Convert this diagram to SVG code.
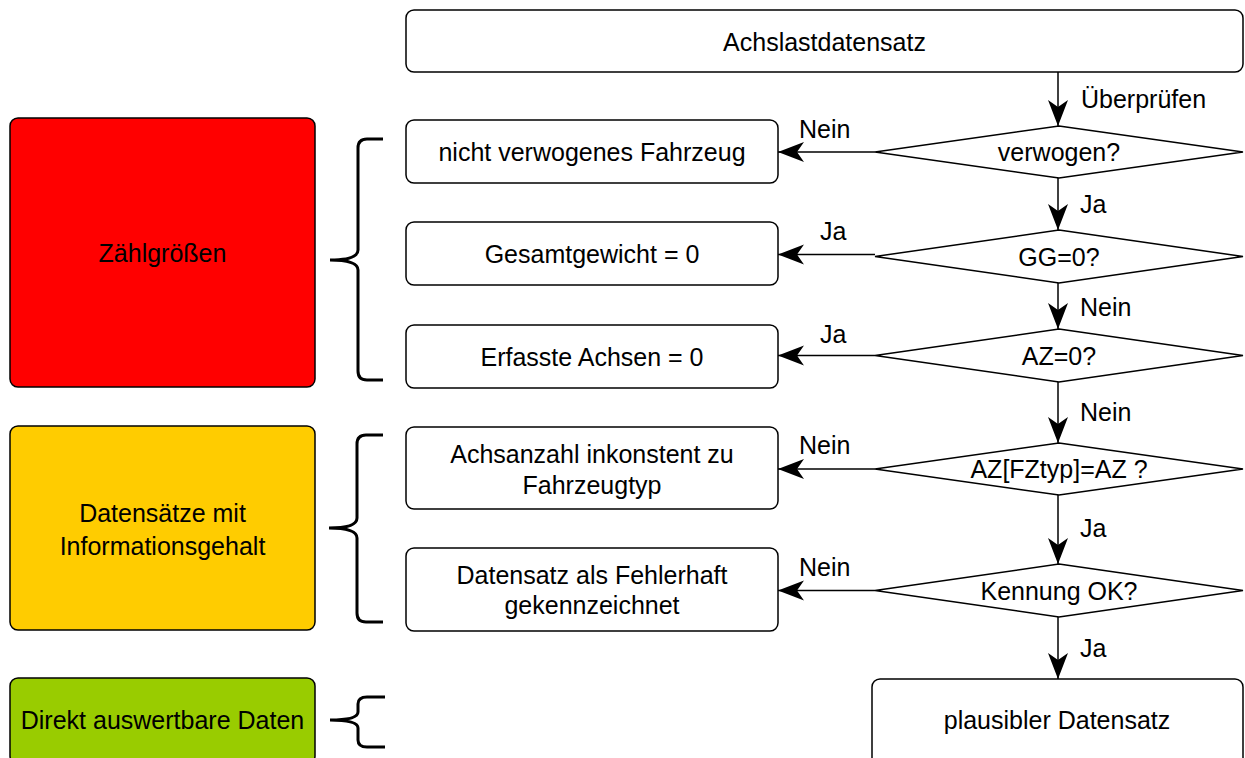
<svg xmlns="http://www.w3.org/2000/svg" width="1245" height="758" viewBox="0 0 1245 758">
<style>
text{font-family:"Liberation Sans",Arial,sans-serif;font-size:25px;fill:#000}
.c{text-anchor:middle}
.box{fill:#fff;stroke:#000;stroke-width:1.5}
.cat{stroke:#000;stroke-width:1.5}
.dia{fill:#fff;stroke:#000;stroke-width:1.5}
.con{fill:none;stroke:#000;stroke-width:1.5}
.brace{fill:none;stroke:#000;stroke-width:3}
</style>
<defs>
<marker id="arr" markerUnits="userSpaceOnUse" markerWidth="30" markerHeight="24" refX="26" refY="10" orient="auto">
<path d="M0,0 L26,10 L0,20 L7,10 Z" fill="#000"/>
</marker>
</defs>
<rect width="1245" height="758" fill="#fff"/>

<g id="cat-zaehl"><rect class="cat" x="10" y="118" width="305" height="269" rx="8" fill="#ff0000"/><text class="c" x="162.5" y="262">Zählgrößen</text></g>
<g id="cat-info"><rect class="cat" x="10" y="426" width="305" height="204" rx="8" fill="#ffcc00"/><text class="c" x="162.5" y="522">Datensätze mit</text><text class="c" x="162.5" y="555">Informationsgehalt</text></g>
<g id="cat-direkt"><rect class="cat" x="10" y="678" width="305" height="86" rx="8" fill="#99cc00"/><text class="c" x="162.5" y="729">Direkt auswertbare Daten</text></g>

<g id="braces">
<path class="brace" d="M383,139 H367 Q358,139 358,148 V250 Q358,260 330,260 Q358,260 358,270 V371 Q358,380 367,380 H383"/>
<path class="brace" d="M383,435 H366 Q357,435 357,444 V518 Q357,528 329,528 Q357,528 357,538 V613 Q357,622 366,622 H383"/>
<path class="brace" d="M385,697 H367 Q358,697 358,704 V712 Q358,720 330,720 Q358,720 358,728 V740 Q358,747 367,747 H385"/>
</g>

<g id="start"><rect class="box" x="406" y="10" width="837" height="62" rx="8"/><text class="c" x="824.5" y="51">Achslastdatensatz</text></g>

<g id="d1"><polygon class="dia" points="1059,126 1243,152 1059,178 875,152"/><text class="c" x="1059" y="161">verwogen?</text></g>
<g id="d2"><polygon class="dia" points="1059,230 1243,256.5 1059,283 875,256.5"/><text class="c" x="1059" y="265.5">GG=0?</text></g>
<g id="d3"><polygon class="dia" points="1059,329 1243,355.5 1059,382 875,355.5"/><text class="c" x="1059" y="364.5">AZ=0?</text></g>
<g id="d4"><polygon class="dia" points="1059,443 1243,469 1059,495 875,469"/><text class="c" x="1059" y="478">AZ[FZtyp]=AZ ?</text></g>
<g id="d5"><polygon class="dia" points="1059,564 1243,590.5 1059,617 875,590.5"/><text class="c" x="1059" y="599.5">Kennung OK?</text></g>

<g id="b1"><rect class="box" x="406" y="120" width="372" height="63" rx="8"/><text class="c" x="592" y="161">nicht verwogenes Fahrzeug</text></g>
<g id="b2"><rect class="box" x="406" y="222" width="372" height="63" rx="8"/><text class="c" x="592" y="263">Gesamtgewicht = 0</text></g>
<g id="b3"><rect class="box" x="406" y="325" width="372" height="63" rx="8"/><text class="c" x="592" y="366">Erfasste Achsen = 0</text></g>
<g id="b4"><rect class="box" x="406" y="427" width="372" height="82" rx="8"/><text class="c" x="592" y="463">Achsanzahl inkonstent zu</text><text class="c" x="592" y="494">Fahrzeugtyp</text></g>
<g id="b5"><rect class="box" x="406" y="548" width="372" height="83" rx="8"/><text class="c" x="592" y="584">Datensatz als Fehlerhaft</text><text class="c" x="592" y="614">gekennzeichnet</text></g>

<g id="end"><rect class="box" x="872" y="679" width="371" height="90" rx="8"/><text class="c" x="1057" y="729">plausibler Datensatz</text></g>

<g id="connectors">
<line class="con" x1="1058" y1="72" x2="1058" y2="126" marker-end="url(#arr)"/>
<line class="con" x1="1058" y1="178" x2="1058" y2="230" marker-end="url(#arr)"/>
<line class="con" x1="1058" y1="283" x2="1058" y2="329" marker-end="url(#arr)"/>
<line class="con" x1="1058" y1="382" x2="1058" y2="443" marker-end="url(#arr)"/>
<line class="con" x1="1058" y1="495" x2="1058" y2="564" marker-end="url(#arr)"/>
<line class="con" x1="1058" y1="617" x2="1058" y2="679" marker-end="url(#arr)"/>
<line class="con" x1="875" y1="152" x2="778" y2="152" marker-end="url(#arr)"/>
<line class="con" x1="875" y1="254.5" x2="778" y2="254.5" marker-end="url(#arr)"/>
<line class="con" x1="875" y1="355.5" x2="778" y2="355.5" marker-end="url(#arr)"/>
<line class="con" x1="875" y1="469" x2="778" y2="469" marker-end="url(#arr)"/>
<line class="con" x1="875" y1="590.5" x2="778" y2="590.5" marker-end="url(#arr)"/>
<text x="1081" y="108">Überprüfen</text>
<text x="1080" y="213">Ja</text>
<text x="1080" y="316">Nein</text>
<text x="1080" y="421">Nein</text>
<text x="1080" y="537">Ja</text>
<text x="1080" y="657">Ja</text>
<text x="799" y="138">Nein</text>
<text x="820" y="240">Ja</text>
<text x="820" y="343">Ja</text>
<text x="799" y="454">Nein</text>
<text x="799" y="576">Nein</text>
</g>
</svg>
